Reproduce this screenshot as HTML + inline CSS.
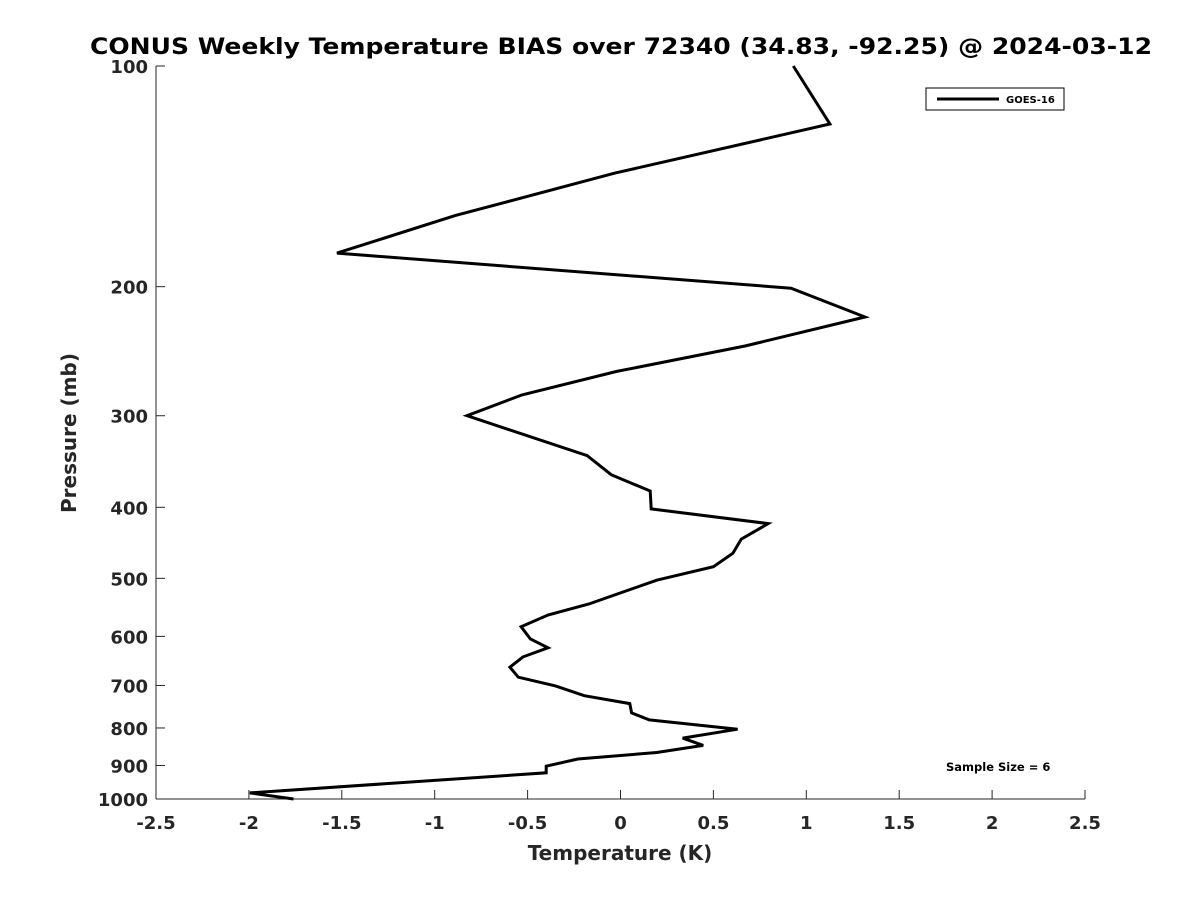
<!DOCTYPE html>
<html><head><meta charset="utf-8"><style>
body{margin:0;background:#fff;}
svg text{font-family:"DejaVu Sans","Liberation Sans",sans-serif;font-weight:bold;fill:#262626;}
</style></head><body>
<svg id="chart" width="1200" height="900" xmlns="http://www.w3.org/2000/svg">
<text x="621" y="54" text-anchor="middle" font-size="22.5" textLength="1062" lengthAdjust="spacingAndGlyphs" style="fill:#000">CONUS Weekly Temperature BIAS over 72340 (34.83, -92.25) @ 2024-03-12</text>
<g id="axes"></g>
<text x="620" y="860" text-anchor="middle" font-size="20">Temperature (K)</text>
<text transform="translate(76,433) rotate(-90)" text-anchor="middle" font-size="20">Pressure (mb)</text>
<g>
<rect x="926" y="88" width="138" height="22" fill="#fff" stroke="#000" stroke-width="1"/>
<line x1="937" y1="99" x2="999" y2="99" stroke="#000" stroke-width="3"/>
<text x="1006" y="103" font-size="10" style="fill:#000">GOES-16</text>
</g>
<text x="946" y="771" font-size="11.5" style="fill:#000">Sample Size = 6</text>
</svg>
<script>
const temps = [0.93,1.127,-0.03,-0.89,-1.526,0.918,1.316,0.67,-0.02,-0.53,-0.826,-0.18,-0.05,0.16,0.165,0.795,0.65,0.605,0.50,0.195,-0.17,-0.39,-0.535,-0.485,-0.39,-0.525,-0.595,-0.55,-0.35,-0.195,0.05,0.06,0.155,0.63,0.335,0.445,0.195,-0.23,-0.40,-0.40,-1.995,-1.76];
const pressures = [100,120,140,160,180,201,220,241,261,281,300,340,361,380,402,421,442,462,482,503,542,561,582,605,622,640,661,682,701,723,741,763,780,803,826,845,864,882,902,921,981,1000];
const xTicks = [-2.5,-2,-1.5,-1,-0.5,0,0.5,1,1.5,2,2.5];
const xTickLabels = ["-2.5","-2","-1.5","-1","-0.5","0","0.5","1","1.5","2","2.5"];
const yTicks = [100,200,300,400,500,600,700,800,900,1000];
const yTickLabels = ["100","200","300","400","500","600","700","800","900","1000"];

const X0=156,X1=1085,Y0=66,Y1=799;
const xs=v=>X0+(v+2.5)/5*(X1-X0);
const ys=p=>Y0+(Math.log10(p)-2)*(Y1-Y0);
const NS="http://www.w3.org/2000/svg";
const svg=document.getElementById('chart');
const axes=document.getElementById('axes');
function mk(t,a,parent){const e=document.createElementNS(NS,t);for(const k in a)e.setAttribute(k,a[k]);(parent||axes).appendChild(e);return e;}

const yl=mk('line',{x1:X0,y1:Y0,x2:X0,y2:Y1,stroke:'#262626','stroke-width':1});


const xl=mk('line',{x1:X0,y1:Y1,x2:X1,y2:Y1,stroke:'#262626','stroke-width':1});



xTicks.forEach((v,i)=>{
  const x=xs(v);
  mk('line',{x1:x,y1:Y1,x2:x,y2:Y1-9,stroke:'#262626','stroke-width':1});
  const t=mk('text',{x:x,y:Y1+30,'text-anchor':'middle','font-size':18});
  t.textContent=xTickLabels[i];
  
  
});
yTicks.forEach((p,i)=>{
  const y=ys(p);
  mk('line',{x1:X0,y1:y,x2:X0+9,y2:y,stroke:'#262626','stroke-width':1});
  const t=mk('text',{x:X0-8,y:y+7,'text-anchor':'end','font-size':18});
  t.textContent=yTickLabels[i];
  
  
});

const pts=temps.map((t,i)=>xs(t).toFixed(1)+','+ys(pressures[i]).toFixed(1)).join(' ');
const line=mk('polyline',{points:pts,fill:'none',stroke:'#000','stroke-width':3,'stroke-linejoin':'miter'},svg);


</script>
</body></html>
